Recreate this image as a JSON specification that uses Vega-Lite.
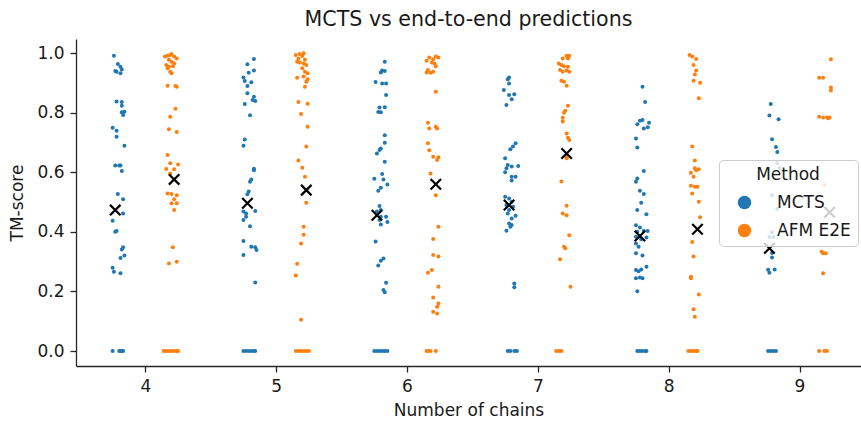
{
  "$schema": "https://vega.github.io/schema/vega-lite/v6.json",
  "width": 785,
  "height": 327,
  "autosize": "none",
  "padding": {"left": 76, "top": 39, "right": 0, "bottom": 55},
  "background": "white",
  "config": {
    "font": "DejaVu Sans",
    "view": {"stroke": null},
    "title": {"fontSize": 20.6, "fontWeight": "normal", "color": "#1a1a1a", "offset": 8},
    "axis": {
      "grid": false,
      "domainColor": "#262626",
      "domainWidth": 1.3,
      "tickColor": "#262626",
      "tickWidth": 1.3,
      "tickSize": 6,
      "labelFontSize": 17,
      "labelColor": "#1a1a1a",
      "labelPadding": 6,
      "titleFontSize": 17,
      "titleFontWeight": "normal",
      "titleColor": "#1a1a1a"
    }
  },
  "title": "MCTS vs end-to-end predictions",
  "datasets": {
    "points": [
      {"chains": 4, "method": "MCTS", "x": 3.76, "tm": 0.991},
      {"chains": 4, "method": "MCTS", "x": 3.79, "tm": 0.963},
      {"chains": 4, "method": "MCTS", "x": 3.81, "tm": 0.954},
      {"chains": 4, "method": "MCTS", "x": 3.77, "tm": 0.94},
      {"chains": 4, "method": "MCTS", "x": 3.78, "tm": 0.937},
      {"chains": 4, "method": "MCTS", "x": 3.82, "tm": 0.945},
      {"chains": 4, "method": "MCTS", "x": 3.81, "tm": 0.932},
      {"chains": 4, "method": "MCTS", "x": 3.78, "tm": 0.837},
      {"chains": 4, "method": "MCTS", "x": 3.82, "tm": 0.836},
      {"chains": 4, "method": "MCTS", "x": 3.82, "tm": 0.823},
      {"chains": 4, "method": "MCTS", "x": 3.82, "tm": 0.801},
      {"chains": 4, "method": "MCTS", "x": 3.84, "tm": 0.803},
      {"chains": 4, "method": "MCTS", "x": 3.83, "tm": 0.792},
      {"chains": 4, "method": "MCTS", "x": 3.75, "tm": 0.749},
      {"chains": 4, "method": "MCTS", "x": 3.78, "tm": 0.739},
      {"chains": 4, "method": "MCTS", "x": 3.78, "tm": 0.719},
      {"chains": 4, "method": "MCTS", "x": 3.84, "tm": 0.689},
      {"chains": 4, "method": "MCTS", "x": 3.77, "tm": 0.623},
      {"chains": 4, "method": "MCTS", "x": 3.8, "tm": 0.623},
      {"chains": 4, "method": "MCTS", "x": 3.81, "tm": 0.623},
      {"chains": 4, "method": "MCTS", "x": 3.82, "tm": 0.604},
      {"chains": 4, "method": "MCTS", "x": 3.79, "tm": 0.527},
      {"chains": 4, "method": "MCTS", "x": 3.83, "tm": 0.509},
      {"chains": 4, "method": "MCTS", "x": 3.83, "tm": 0.462},
      {"chains": 4, "method": "MCTS", "x": 3.75, "tm": 0.437},
      {"chains": 4, "method": "MCTS", "x": 3.78, "tm": 0.403},
      {"chains": 4, "method": "MCTS", "x": 3.77, "tm": 0.4},
      {"chains": 4, "method": "MCTS", "x": 3.83, "tm": 0.348},
      {"chains": 4, "method": "MCTS", "x": 3.82, "tm": 0.341},
      {"chains": 4, "method": "MCTS", "x": 3.84, "tm": 0.321},
      {"chains": 4, "method": "MCTS", "x": 3.81, "tm": 0.312},
      {"chains": 4, "method": "MCTS", "x": 3.75, "tm": 0.28},
      {"chains": 4, "method": "MCTS", "x": 3.76, "tm": 0.266},
      {"chains": 4, "method": "MCTS", "x": 3.81, "tm": 0.261},
      {"chains": 4, "method": "MCTS", "x": 3.75, "tm": 0},
      {"chains": 4, "method": "MCTS", "x": 3.8, "tm": 0},
      {"chains": 4, "method": "MCTS", "x": 3.81, "tm": 0},
      {"chains": 4, "method": "MCTS", "x": 3.82, "tm": 0},
      {"chains": 4, "method": "MCTS", "x": 3.83, "tm": 0},
      {"chains": 4, "method": "AFM E2E", "x": 4.15, "tm": 0.988},
      {"chains": 4, "method": "AFM E2E", "x": 4.17, "tm": 0.991},
      {"chains": 4, "method": "AFM E2E", "x": 4.19, "tm": 0.993},
      {"chains": 4, "method": "AFM E2E", "x": 4.2, "tm": 0.997},
      {"chains": 4, "method": "AFM E2E", "x": 4.22, "tm": 0.988},
      {"chains": 4, "method": "AFM E2E", "x": 4.24, "tm": 0.982},
      {"chains": 4, "method": "AFM E2E", "x": 4.18, "tm": 0.977},
      {"chains": 4, "method": "AFM E2E", "x": 4.2, "tm": 0.971},
      {"chains": 4, "method": "AFM E2E", "x": 4.22, "tm": 0.965},
      {"chains": 4, "method": "AFM E2E", "x": 4.16, "tm": 0.96},
      {"chains": 4, "method": "AFM E2E", "x": 4.18, "tm": 0.954},
      {"chains": 4, "method": "AFM E2E", "x": 4.21, "tm": 0.956},
      {"chains": 4, "method": "AFM E2E", "x": 4.17, "tm": 0.949},
      {"chains": 4, "method": "AFM E2E", "x": 4.19, "tm": 0.937},
      {"chains": 4, "method": "AFM E2E", "x": 4.2, "tm": 0.932},
      {"chains": 4, "method": "AFM E2E", "x": 4.17, "tm": 0.89},
      {"chains": 4, "method": "AFM E2E", "x": 4.23, "tm": 0.889},
      {"chains": 4, "method": "AFM E2E", "x": 4.24, "tm": 0.887},
      {"chains": 4, "method": "AFM E2E", "x": 4.23, "tm": 0.813},
      {"chains": 4, "method": "AFM E2E", "x": 4.19, "tm": 0.786},
      {"chains": 4, "method": "AFM E2E", "x": 4.18, "tm": 0.744},
      {"chains": 4, "method": "AFM E2E", "x": 4.24, "tm": 0.735},
      {"chains": 4, "method": "AFM E2E", "x": 4.17, "tm": 0.658},
      {"chains": 4, "method": "AFM E2E", "x": 4.19, "tm": 0.63},
      {"chains": 4, "method": "AFM E2E", "x": 4.25, "tm": 0.626},
      {"chains": 4, "method": "AFM E2E", "x": 4.16, "tm": 0.611},
      {"chains": 4, "method": "AFM E2E", "x": 4.22, "tm": 0.61},
      {"chains": 4, "method": "AFM E2E", "x": 4.19, "tm": 0.596},
      {"chains": 4, "method": "AFM E2E", "x": 4.17, "tm": 0.529},
      {"chains": 4, "method": "AFM E2E", "x": 4.2, "tm": 0.527},
      {"chains": 4, "method": "AFM E2E", "x": 4.24, "tm": 0.523},
      {"chains": 4, "method": "AFM E2E", "x": 4.22, "tm": 0.509},
      {"chains": 4, "method": "AFM E2E", "x": 4.2, "tm": 0.496},
      {"chains": 4, "method": "AFM E2E", "x": 4.24, "tm": 0.496},
      {"chains": 4, "method": "AFM E2E", "x": 4.22, "tm": 0.473},
      {"chains": 4, "method": "AFM E2E", "x": 4.21, "tm": 0.348},
      {"chains": 4, "method": "AFM E2E", "x": 4.18, "tm": 0.294},
      {"chains": 4, "method": "AFM E2E", "x": 4.24, "tm": 0.3},
      {"chains": 4, "method": "AFM E2E", "x": 4.14, "tm": 0},
      {"chains": 4, "method": "AFM E2E", "x": 4.16, "tm": 0},
      {"chains": 4, "method": "AFM E2E", "x": 4.18, "tm": 0},
      {"chains": 4, "method": "AFM E2E", "x": 4.2, "tm": 0},
      {"chains": 4, "method": "AFM E2E", "x": 4.22, "tm": 0},
      {"chains": 4, "method": "AFM E2E", "x": 4.24, "tm": 0},
      {"chains": 4, "method": "AFM E2E", "x": 4.25, "tm": 0},
      {"chains": 5, "method": "MCTS", "x": 4.83, "tm": 0.98},
      {"chains": 5, "method": "MCTS", "x": 4.78, "tm": 0.962},
      {"chains": 5, "method": "MCTS", "x": 4.83, "tm": 0.941},
      {"chains": 5, "method": "MCTS", "x": 4.79, "tm": 0.934},
      {"chains": 5, "method": "MCTS", "x": 4.75, "tm": 0.918},
      {"chains": 5, "method": "MCTS", "x": 4.76, "tm": 0.906},
      {"chains": 5, "method": "MCTS", "x": 4.81, "tm": 0.902},
      {"chains": 5, "method": "MCTS", "x": 4.78, "tm": 0.889},
      {"chains": 5, "method": "MCTS", "x": 4.78, "tm": 0.865},
      {"chains": 5, "method": "MCTS", "x": 4.83, "tm": 0.853},
      {"chains": 5, "method": "MCTS", "x": 4.82, "tm": 0.842},
      {"chains": 5, "method": "MCTS", "x": 4.84, "tm": 0.839},
      {"chains": 5, "method": "MCTS", "x": 4.76, "tm": 0.829},
      {"chains": 5, "method": "MCTS", "x": 4.8, "tm": 0.791},
      {"chains": 5, "method": "MCTS", "x": 4.76, "tm": 0.71},
      {"chains": 5, "method": "MCTS", "x": 4.75, "tm": 0.689},
      {"chains": 5, "method": "MCTS", "x": 4.83, "tm": 0.612},
      {"chains": 5, "method": "MCTS", "x": 4.83, "tm": 0.607},
      {"chains": 5, "method": "MCTS", "x": 4.81, "tm": 0.576},
      {"chains": 5, "method": "MCTS", "x": 4.8, "tm": 0.568},
      {"chains": 5, "method": "MCTS", "x": 4.79, "tm": 0.535},
      {"chains": 5, "method": "MCTS", "x": 4.78, "tm": 0.526},
      {"chains": 5, "method": "MCTS", "x": 4.75, "tm": 0.468},
      {"chains": 5, "method": "MCTS", "x": 4.77, "tm": 0.462},
      {"chains": 5, "method": "MCTS", "x": 4.84, "tm": 0.47},
      {"chains": 5, "method": "MCTS", "x": 4.77, "tm": 0.451},
      {"chains": 5, "method": "MCTS", "x": 4.75, "tm": 0.44},
      {"chains": 5, "method": "MCTS", "x": 4.8, "tm": 0.419},
      {"chains": 5, "method": "MCTS", "x": 4.75, "tm": 0.369},
      {"chains": 5, "method": "MCTS", "x": 4.81, "tm": 0.35},
      {"chains": 5, "method": "MCTS", "x": 4.84, "tm": 0.348},
      {"chains": 5, "method": "MCTS", "x": 4.85, "tm": 0.339},
      {"chains": 5, "method": "MCTS", "x": 4.75, "tm": 0.322},
      {"chains": 5, "method": "MCTS", "x": 4.84, "tm": 0.23},
      {"chains": 5, "method": "MCTS", "x": 4.75, "tm": 0},
      {"chains": 5, "method": "MCTS", "x": 4.77, "tm": 0},
      {"chains": 5, "method": "MCTS", "x": 4.79, "tm": 0},
      {"chains": 5, "method": "MCTS", "x": 4.81, "tm": 0},
      {"chains": 5, "method": "MCTS", "x": 4.83, "tm": 0},
      {"chains": 5, "method": "MCTS", "x": 4.84, "tm": 0},
      {"chains": 5, "method": "AFM E2E", "x": 5.15, "tm": 0.993},
      {"chains": 5, "method": "AFM E2E", "x": 5.18, "tm": 0.997},
      {"chains": 5, "method": "AFM E2E", "x": 5.21, "tm": 0.999},
      {"chains": 5, "method": "AFM E2E", "x": 5.17, "tm": 0.982},
      {"chains": 5, "method": "AFM E2E", "x": 5.2, "tm": 0.99},
      {"chains": 5, "method": "AFM E2E", "x": 5.22, "tm": 0.977},
      {"chains": 5, "method": "AFM E2E", "x": 5.16, "tm": 0.971},
      {"chains": 5, "method": "AFM E2E", "x": 5.18, "tm": 0.968},
      {"chains": 5, "method": "AFM E2E", "x": 5.21, "tm": 0.965},
      {"chains": 5, "method": "AFM E2E", "x": 5.23, "tm": 0.96},
      {"chains": 5, "method": "AFM E2E", "x": 5.2, "tm": 0.949},
      {"chains": 5, "method": "AFM E2E", "x": 5.22, "tm": 0.937},
      {"chains": 5, "method": "AFM E2E", "x": 5.24, "tm": 0.932},
      {"chains": 5, "method": "AFM E2E", "x": 5.16, "tm": 0.917},
      {"chains": 5, "method": "AFM E2E", "x": 5.21, "tm": 0.921},
      {"chains": 5, "method": "AFM E2E", "x": 5.24, "tm": 0.912},
      {"chains": 5, "method": "AFM E2E", "x": 5.23, "tm": 0.904},
      {"chains": 5, "method": "AFM E2E", "x": 5.22, "tm": 0.887},
      {"chains": 5, "method": "AFM E2E", "x": 5.17, "tm": 0.836},
      {"chains": 5, "method": "AFM E2E", "x": 5.24, "tm": 0.83},
      {"chains": 5, "method": "AFM E2E", "x": 5.19, "tm": 0.795},
      {"chains": 5, "method": "AFM E2E", "x": 5.24, "tm": 0.753},
      {"chains": 5, "method": "AFM E2E", "x": 5.23, "tm": 0.686},
      {"chains": 5, "method": "AFM E2E", "x": 5.17, "tm": 0.639},
      {"chains": 5, "method": "AFM E2E", "x": 5.2, "tm": 0.615},
      {"chains": 5, "method": "AFM E2E", "x": 5.22, "tm": 0.585},
      {"chains": 5, "method": "AFM E2E", "x": 5.23, "tm": 0.498},
      {"chains": 5, "method": "AFM E2E", "x": 5.21, "tm": 0.417},
      {"chains": 5, "method": "AFM E2E", "x": 5.21, "tm": 0.39},
      {"chains": 5, "method": "AFM E2E", "x": 5.19, "tm": 0.361},
      {"chains": 5, "method": "AFM E2E", "x": 5.16, "tm": 0.293},
      {"chains": 5, "method": "AFM E2E", "x": 5.15, "tm": 0.254},
      {"chains": 5, "method": "AFM E2E", "x": 5.19, "tm": 0.105},
      {"chains": 5, "method": "AFM E2E", "x": 5.15, "tm": 0},
      {"chains": 5, "method": "AFM E2E", "x": 5.17, "tm": 0},
      {"chains": 5, "method": "AFM E2E", "x": 5.19, "tm": 0},
      {"chains": 5, "method": "AFM E2E", "x": 5.21, "tm": 0},
      {"chains": 5, "method": "AFM E2E", "x": 5.23, "tm": 0},
      {"chains": 5, "method": "AFM E2E", "x": 5.25, "tm": 0},
      {"chains": 6, "method": "MCTS", "x": 5.83, "tm": 0.971},
      {"chains": 6, "method": "MCTS", "x": 5.81, "tm": 0.941},
      {"chains": 6, "method": "MCTS", "x": 5.83, "tm": 0.94},
      {"chains": 6, "method": "MCTS", "x": 5.8, "tm": 0.935},
      {"chains": 6, "method": "MCTS", "x": 5.76, "tm": 0.903},
      {"chains": 6, "method": "MCTS", "x": 5.81, "tm": 0.898},
      {"chains": 6, "method": "MCTS", "x": 5.84, "tm": 0.898},
      {"chains": 6, "method": "MCTS", "x": 5.84, "tm": 0.859},
      {"chains": 6, "method": "MCTS", "x": 5.79, "tm": 0.817},
      {"chains": 6, "method": "MCTS", "x": 5.83, "tm": 0.818},
      {"chains": 6, "method": "MCTS", "x": 5.78, "tm": 0.802},
      {"chains": 6, "method": "MCTS", "x": 5.8, "tm": 0.801},
      {"chains": 6, "method": "MCTS", "x": 5.83, "tm": 0.724},
      {"chains": 6, "method": "MCTS", "x": 5.83, "tm": 0.699},
      {"chains": 6, "method": "MCTS", "x": 5.8, "tm": 0.68},
      {"chains": 6, "method": "MCTS", "x": 5.79, "tm": 0.675},
      {"chains": 6, "method": "MCTS", "x": 5.77, "tm": 0.663},
      {"chains": 6, "method": "MCTS", "x": 5.83, "tm": 0.635},
      {"chains": 6, "method": "MCTS", "x": 5.75, "tm": 0.578},
      {"chains": 6, "method": "MCTS", "x": 5.81, "tm": 0.594},
      {"chains": 6, "method": "MCTS", "x": 5.82, "tm": 0.576},
      {"chains": 6, "method": "MCTS", "x": 5.85, "tm": 0.559},
      {"chains": 6, "method": "MCTS", "x": 5.8, "tm": 0.548},
      {"chains": 6, "method": "MCTS", "x": 5.78, "tm": 0.538},
      {"chains": 6, "method": "MCTS", "x": 5.79, "tm": 0.487},
      {"chains": 6, "method": "MCTS", "x": 5.8, "tm": 0.473},
      {"chains": 6, "method": "MCTS", "x": 5.77, "tm": 0.468},
      {"chains": 6, "method": "MCTS", "x": 5.8, "tm": 0.451},
      {"chains": 6, "method": "MCTS", "x": 5.84, "tm": 0.451},
      {"chains": 6, "method": "MCTS", "x": 5.79, "tm": 0.44},
      {"chains": 6, "method": "MCTS", "x": 5.85, "tm": 0.433},
      {"chains": 6, "method": "MCTS", "x": 5.8, "tm": 0.425},
      {"chains": 6, "method": "MCTS", "x": 5.76, "tm": 0.368},
      {"chains": 6, "method": "MCTS", "x": 5.82, "tm": 0.311},
      {"chains": 6, "method": "MCTS", "x": 5.8, "tm": 0.303},
      {"chains": 6, "method": "MCTS", "x": 5.78, "tm": 0.287},
      {"chains": 6, "method": "MCTS", "x": 5.84, "tm": 0.229},
      {"chains": 6, "method": "MCTS", "x": 5.82, "tm": 0.205},
      {"chains": 6, "method": "MCTS", "x": 5.83, "tm": 0.197},
      {"chains": 6, "method": "MCTS", "x": 5.75, "tm": 0},
      {"chains": 6, "method": "MCTS", "x": 5.77, "tm": 0},
      {"chains": 6, "method": "MCTS", "x": 5.79, "tm": 0},
      {"chains": 6, "method": "MCTS", "x": 5.81, "tm": 0},
      {"chains": 6, "method": "MCTS", "x": 5.83, "tm": 0},
      {"chains": 6, "method": "MCTS", "x": 5.85, "tm": 0},
      {"chains": 6, "method": "AFM E2E", "x": 6.17, "tm": 0.985},
      {"chains": 6, "method": "AFM E2E", "x": 6.22, "tm": 0.988},
      {"chains": 6, "method": "AFM E2E", "x": 6.24, "tm": 0.985},
      {"chains": 6, "method": "AFM E2E", "x": 6.15, "tm": 0.974},
      {"chains": 6, "method": "AFM E2E", "x": 6.19, "tm": 0.968},
      {"chains": 6, "method": "AFM E2E", "x": 6.21, "tm": 0.965},
      {"chains": 6, "method": "AFM E2E", "x": 6.22, "tm": 0.956},
      {"chains": 6, "method": "AFM E2E", "x": 6.2, "tm": 0.979},
      {"chains": 6, "method": "AFM E2E", "x": 6.16, "tm": 0.943},
      {"chains": 6, "method": "AFM E2E", "x": 6.2, "tm": 0.937},
      {"chains": 6, "method": "AFM E2E", "x": 6.15, "tm": 0.935},
      {"chains": 6, "method": "AFM E2E", "x": 6.18, "tm": 0.934},
      {"chains": 6, "method": "AFM E2E", "x": 6.22, "tm": 0.87},
      {"chains": 6, "method": "AFM E2E", "x": 6.16, "tm": 0.766},
      {"chains": 6, "method": "AFM E2E", "x": 6.17, "tm": 0.747},
      {"chains": 6, "method": "AFM E2E", "x": 6.22, "tm": 0.753},
      {"chains": 6, "method": "AFM E2E", "x": 6.23, "tm": 0.747},
      {"chains": 6, "method": "AFM E2E", "x": 6.16, "tm": 0.697},
      {"chains": 6, "method": "AFM E2E", "x": 6.17, "tm": 0.674},
      {"chains": 6, "method": "AFM E2E", "x": 6.2, "tm": 0.652},
      {"chains": 6, "method": "AFM E2E", "x": 6.24, "tm": 0.65},
      {"chains": 6, "method": "AFM E2E", "x": 6.23, "tm": 0.641},
      {"chains": 6, "method": "AFM E2E", "x": 6.18, "tm": 0.596},
      {"chains": 6, "method": "AFM E2E", "x": 6.22, "tm": 0.523},
      {"chains": 6, "method": "AFM E2E", "x": 6.24, "tm": 0.417},
      {"chains": 6, "method": "AFM E2E", "x": 6.2, "tm": 0.376},
      {"chains": 6, "method": "AFM E2E", "x": 6.2, "tm": 0.322},
      {"chains": 6, "method": "AFM E2E", "x": 6.24, "tm": 0.317},
      {"chains": 6, "method": "AFM E2E", "x": 6.16, "tm": 0.263},
      {"chains": 6, "method": "AFM E2E", "x": 6.19, "tm": 0.272},
      {"chains": 6, "method": "AFM E2E", "x": 6.24, "tm": 0.216},
      {"chains": 6, "method": "AFM E2E", "x": 6.2, "tm": 0.18},
      {"chains": 6, "method": "AFM E2E", "x": 6.24, "tm": 0.16},
      {"chains": 6, "method": "AFM E2E", "x": 6.23, "tm": 0.149},
      {"chains": 6, "method": "AFM E2E", "x": 6.2, "tm": 0.132},
      {"chains": 6, "method": "AFM E2E", "x": 6.23, "tm": 0.126},
      {"chains": 6, "method": "AFM E2E", "x": 6.15, "tm": 0},
      {"chains": 6, "method": "AFM E2E", "x": 6.16, "tm": 0},
      {"chains": 6, "method": "AFM E2E", "x": 6.18, "tm": 0},
      {"chains": 6, "method": "AFM E2E", "x": 6.22, "tm": 0},
      {"chains": 7, "method": "MCTS", "x": 6.78, "tm": 0.918},
      {"chains": 7, "method": "MCTS", "x": 6.77, "tm": 0.912},
      {"chains": 7, "method": "MCTS", "x": 6.78, "tm": 0.898},
      {"chains": 7, "method": "MCTS", "x": 6.74, "tm": 0.876},
      {"chains": 7, "method": "MCTS", "x": 6.78, "tm": 0.859},
      {"chains": 7, "method": "MCTS", "x": 6.82, "tm": 0.862},
      {"chains": 7, "method": "MCTS", "x": 6.8, "tm": 0.845},
      {"chains": 7, "method": "MCTS", "x": 6.76, "tm": 0.826},
      {"chains": 7, "method": "MCTS", "x": 6.83, "tm": 0.697},
      {"chains": 7, "method": "MCTS", "x": 6.81, "tm": 0.686},
      {"chains": 7, "method": "MCTS", "x": 6.79, "tm": 0.677},
      {"chains": 7, "method": "MCTS", "x": 6.75, "tm": 0.647},
      {"chains": 7, "method": "MCTS", "x": 6.77, "tm": 0.624},
      {"chains": 7, "method": "MCTS", "x": 6.76, "tm": 0.613},
      {"chains": 7, "method": "MCTS", "x": 6.8, "tm": 0.619},
      {"chains": 7, "method": "MCTS", "x": 6.85, "tm": 0.621},
      {"chains": 7, "method": "MCTS", "x": 6.75, "tm": 0.6},
      {"chains": 7, "method": "MCTS", "x": 6.8, "tm": 0.585},
      {"chains": 7, "method": "MCTS", "x": 6.83, "tm": 0.585},
      {"chains": 7, "method": "MCTS", "x": 6.8, "tm": 0.572},
      {"chains": 7, "method": "MCTS", "x": 6.75, "tm": 0.518},
      {"chains": 7, "method": "MCTS", "x": 6.78, "tm": 0.512},
      {"chains": 7, "method": "MCTS", "x": 6.8, "tm": 0.501},
      {"chains": 7, "method": "MCTS", "x": 6.76, "tm": 0.49},
      {"chains": 7, "method": "MCTS", "x": 6.81, "tm": 0.484},
      {"chains": 7, "method": "MCTS", "x": 6.78, "tm": 0.473},
      {"chains": 7, "method": "MCTS", "x": 6.77, "tm": 0.462},
      {"chains": 7, "method": "MCTS", "x": 6.83, "tm": 0.454},
      {"chains": 7, "method": "MCTS", "x": 6.8, "tm": 0.445},
      {"chains": 7, "method": "MCTS", "x": 6.78, "tm": 0.428},
      {"chains": 7, "method": "MCTS", "x": 6.8, "tm": 0.423},
      {"chains": 7, "method": "MCTS", "x": 6.79, "tm": 0.417},
      {"chains": 7, "method": "MCTS", "x": 6.76, "tm": 0.404},
      {"chains": 7, "method": "MCTS", "x": 6.82, "tm": 0.227},
      {"chains": 7, "method": "MCTS", "x": 6.82, "tm": 0.214},
      {"chains": 7, "method": "MCTS", "x": 6.77, "tm": 0},
      {"chains": 7, "method": "MCTS", "x": 6.79, "tm": 0},
      {"chains": 7, "method": "MCTS", "x": 6.82, "tm": 0},
      {"chains": 7, "method": "MCTS", "x": 6.84, "tm": 0},
      {"chains": 7, "method": "AFM E2E", "x": 7.22, "tm": 0.991},
      {"chains": 7, "method": "AFM E2E", "x": 7.24, "tm": 0.991},
      {"chains": 7, "method": "AFM E2E", "x": 7.19, "tm": 0.982},
      {"chains": 7, "method": "AFM E2E", "x": 7.23, "tm": 0.982},
      {"chains": 7, "method": "AFM E2E", "x": 7.16, "tm": 0.965},
      {"chains": 7, "method": "AFM E2E", "x": 7.18, "tm": 0.96},
      {"chains": 7, "method": "AFM E2E", "x": 7.2, "tm": 0.956},
      {"chains": 7, "method": "AFM E2E", "x": 7.23, "tm": 0.954},
      {"chains": 7, "method": "AFM E2E", "x": 7.17, "tm": 0.943},
      {"chains": 7, "method": "AFM E2E", "x": 7.19, "tm": 0.937},
      {"chains": 7, "method": "AFM E2E", "x": 7.22, "tm": 0.941},
      {"chains": 7, "method": "AFM E2E", "x": 7.24, "tm": 0.937},
      {"chains": 7, "method": "AFM E2E", "x": 7.18, "tm": 0.907},
      {"chains": 7, "method": "AFM E2E", "x": 7.2, "tm": 0.904},
      {"chains": 7, "method": "AFM E2E", "x": 7.22, "tm": 0.89},
      {"chains": 7, "method": "AFM E2E", "x": 7.23, "tm": 0.823},
      {"chains": 7, "method": "AFM E2E", "x": 7.21, "tm": 0.806},
      {"chains": 7, "method": "AFM E2E", "x": 7.2, "tm": 0.8},
      {"chains": 7, "method": "AFM E2E", "x": 7.19, "tm": 0.783},
      {"chains": 7, "method": "AFM E2E", "x": 7.19, "tm": 0.77},
      {"chains": 7, "method": "AFM E2E", "x": 7.22, "tm": 0.73},
      {"chains": 7, "method": "AFM E2E", "x": 7.23, "tm": 0.716},
      {"chains": 7, "method": "AFM E2E", "x": 7.24, "tm": 0.708},
      {"chains": 7, "method": "AFM E2E", "x": 7.22, "tm": 0.652},
      {"chains": 7, "method": "AFM E2E", "x": 7.22, "tm": 0.647},
      {"chains": 7, "method": "AFM E2E", "x": 7.18, "tm": 0.569},
      {"chains": 7, "method": "AFM E2E", "x": 7.22, "tm": 0.488},
      {"chains": 7, "method": "AFM E2E", "x": 7.19, "tm": 0.462},
      {"chains": 7, "method": "AFM E2E", "x": 7.22, "tm": 0.456},
      {"chains": 7, "method": "AFM E2E", "x": 7.24, "tm": 0.389},
      {"chains": 7, "method": "AFM E2E", "x": 7.2, "tm": 0.35},
      {"chains": 7, "method": "AFM E2E", "x": 7.21, "tm": 0.345},
      {"chains": 7, "method": "AFM E2E", "x": 7.17, "tm": 0.308},
      {"chains": 7, "method": "AFM E2E", "x": 7.25, "tm": 0.216},
      {"chains": 7, "method": "AFM E2E", "x": 7.14, "tm": 0},
      {"chains": 7, "method": "AFM E2E", "x": 7.16, "tm": 0},
      {"chains": 7, "method": "AFM E2E", "x": 7.18, "tm": 0},
      {"chains": 8, "method": "MCTS", "x": 7.8, "tm": 0.887},
      {"chains": 8, "method": "MCTS", "x": 7.82, "tm": 0.836},
      {"chains": 8, "method": "MCTS", "x": 7.8, "tm": 0.775},
      {"chains": 8, "method": "MCTS", "x": 7.78, "tm": 0.773},
      {"chains": 8, "method": "MCTS", "x": 7.76, "tm": 0.761},
      {"chains": 8, "method": "MCTS", "x": 7.85, "tm": 0.766},
      {"chains": 8, "method": "MCTS", "x": 7.81, "tm": 0.747},
      {"chains": 8, "method": "MCTS", "x": 7.84, "tm": 0.751},
      {"chains": 8, "method": "MCTS", "x": 7.75, "tm": 0.713},
      {"chains": 8, "method": "MCTS", "x": 7.76, "tm": 0.683},
      {"chains": 8, "method": "MCTS", "x": 7.81, "tm": 0.604},
      {"chains": 8, "method": "MCTS", "x": 7.76, "tm": 0.579},
      {"chains": 8, "method": "MCTS", "x": 7.75, "tm": 0.568},
      {"chains": 8, "method": "MCTS", "x": 7.78, "tm": 0.538},
      {"chains": 8, "method": "MCTS", "x": 7.81, "tm": 0.527},
      {"chains": 8, "method": "MCTS", "x": 7.79, "tm": 0.498},
      {"chains": 8, "method": "MCTS", "x": 7.76, "tm": 0.473},
      {"chains": 8, "method": "MCTS", "x": 7.83, "tm": 0.459},
      {"chains": 8, "method": "MCTS", "x": 7.75, "tm": 0.422},
      {"chains": 8, "method": "MCTS", "x": 7.78, "tm": 0.415},
      {"chains": 8, "method": "MCTS", "x": 7.76, "tm": 0.4},
      {"chains": 8, "method": "MCTS", "x": 7.81, "tm": 0.403},
      {"chains": 8, "method": "MCTS", "x": 7.84, "tm": 0.403},
      {"chains": 8, "method": "MCTS", "x": 7.75, "tm": 0.384},
      {"chains": 8, "method": "MCTS", "x": 7.79, "tm": 0.375},
      {"chains": 8, "method": "MCTS", "x": 7.83, "tm": 0.381},
      {"chains": 8, "method": "MCTS", "x": 7.75, "tm": 0.361},
      {"chains": 8, "method": "MCTS", "x": 7.77, "tm": 0.35},
      {"chains": 8, "method": "MCTS", "x": 7.75, "tm": 0.328},
      {"chains": 8, "method": "MCTS", "x": 7.8, "tm": 0.321},
      {"chains": 8, "method": "MCTS", "x": 7.83, "tm": 0.283},
      {"chains": 8, "method": "MCTS", "x": 7.75, "tm": 0.272},
      {"chains": 8, "method": "MCTS", "x": 7.77, "tm": 0.268},
      {"chains": 8, "method": "MCTS", "x": 7.79, "tm": 0.274},
      {"chains": 8, "method": "MCTS", "x": 7.75, "tm": 0.244},
      {"chains": 8, "method": "MCTS", "x": 7.78, "tm": 0.247},
      {"chains": 8, "method": "MCTS", "x": 7.8, "tm": 0.244},
      {"chains": 8, "method": "MCTS", "x": 7.76, "tm": 0.201},
      {"chains": 8, "method": "MCTS", "x": 7.76, "tm": 0},
      {"chains": 8, "method": "MCTS", "x": 7.78, "tm": 0},
      {"chains": 8, "method": "MCTS", "x": 7.8, "tm": 0},
      {"chains": 8, "method": "MCTS", "x": 7.82, "tm": 0},
      {"chains": 8, "method": "MCTS", "x": 7.83, "tm": 0},
      {"chains": 8, "method": "AFM E2E", "x": 8.16, "tm": 0.993},
      {"chains": 8, "method": "AFM E2E", "x": 8.18, "tm": 0.988},
      {"chains": 8, "method": "AFM E2E", "x": 8.21, "tm": 0.98},
      {"chains": 8, "method": "AFM E2E", "x": 8.19, "tm": 0.96},
      {"chains": 8, "method": "AFM E2E", "x": 8.21, "tm": 0.941},
      {"chains": 8, "method": "AFM E2E", "x": 8.2, "tm": 0.928},
      {"chains": 8, "method": "AFM E2E", "x": 8.19, "tm": 0.907},
      {"chains": 8, "method": "AFM E2E", "x": 8.24, "tm": 0.9},
      {"chains": 8, "method": "AFM E2E", "x": 8.23, "tm": 0.848},
      {"chains": 8, "method": "AFM E2E", "x": 8.18, "tm": 0.686},
      {"chains": 8, "method": "AFM E2E", "x": 8.2, "tm": 0.639},
      {"chains": 8, "method": "AFM E2E", "x": 8.2, "tm": 0.613},
      {"chains": 8, "method": "AFM E2E", "x": 8.17, "tm": 0.598},
      {"chains": 8, "method": "AFM E2E", "x": 8.21, "tm": 0.607},
      {"chains": 8, "method": "AFM E2E", "x": 8.23, "tm": 0.61},
      {"chains": 8, "method": "AFM E2E", "x": 8.19, "tm": 0.585},
      {"chains": 8, "method": "AFM E2E", "x": 8.17, "tm": 0.555},
      {"chains": 8, "method": "AFM E2E", "x": 8.2, "tm": 0.551},
      {"chains": 8, "method": "AFM E2E", "x": 8.22, "tm": 0.551},
      {"chains": 8, "method": "AFM E2E", "x": 8.18, "tm": 0.529},
      {"chains": 8, "method": "AFM E2E", "x": 8.23, "tm": 0.501},
      {"chains": 8, "method": "AFM E2E", "x": 8.24, "tm": 0.449},
      {"chains": 8, "method": "AFM E2E", "x": 8.18, "tm": 0.366},
      {"chains": 8, "method": "AFM E2E", "x": 8.19, "tm": 0.317},
      {"chains": 8, "method": "AFM E2E", "x": 8.17, "tm": 0.249},
      {"chains": 8, "method": "AFM E2E", "x": 8.17, "tm": 0.244},
      {"chains": 8, "method": "AFM E2E", "x": 8.23, "tm": 0.19},
      {"chains": 8, "method": "AFM E2E", "x": 8.19, "tm": 0.14},
      {"chains": 8, "method": "AFM E2E", "x": 8.2, "tm": 0.115},
      {"chains": 8, "method": "AFM E2E", "x": 8.15, "tm": 0},
      {"chains": 8, "method": "AFM E2E", "x": 8.17, "tm": 0},
      {"chains": 8, "method": "AFM E2E", "x": 8.19, "tm": 0},
      {"chains": 8, "method": "AFM E2E", "x": 8.21, "tm": 0},
      {"chains": 8, "method": "AFM E2E", "x": 8.22, "tm": 0},
      {"chains": 9, "method": "MCTS", "x": 8.78, "tm": 0.829},
      {"chains": 9, "method": "MCTS", "x": 8.77, "tm": 0.79},
      {"chains": 9, "method": "MCTS", "x": 8.84, "tm": 0.778},
      {"chains": 9, "method": "MCTS", "x": 8.79, "tm": 0.711},
      {"chains": 9, "method": "MCTS", "x": 8.82, "tm": 0.685},
      {"chains": 9, "method": "MCTS", "x": 8.83, "tm": 0.668},
      {"chains": 9, "method": "MCTS", "x": 8.83, "tm": 0.631},
      {"chains": 9, "method": "MCTS", "x": 8.85, "tm": 0.614},
      {"chains": 9, "method": "MCTS", "x": 8.79, "tm": 0.523},
      {"chains": 9, "method": "MCTS", "x": 8.83, "tm": 0.477},
      {"chains": 9, "method": "MCTS", "x": 8.79, "tm": 0.399},
      {"chains": 9, "method": "MCTS", "x": 8.77, "tm": 0.383},
      {"chains": 9, "method": "MCTS", "x": 8.8, "tm": 0.383},
      {"chains": 9, "method": "MCTS", "x": 8.79, "tm": 0.329},
      {"chains": 9, "method": "MCTS", "x": 8.79, "tm": 0.314},
      {"chains": 9, "method": "MCTS", "x": 8.76, "tm": 0.273},
      {"chains": 9, "method": "MCTS", "x": 8.77, "tm": 0.263},
      {"chains": 9, "method": "MCTS", "x": 8.81, "tm": 0.274},
      {"chains": 9, "method": "MCTS", "x": 8.76, "tm": 0},
      {"chains": 9, "method": "MCTS", "x": 8.78, "tm": 0},
      {"chains": 9, "method": "MCTS", "x": 8.8, "tm": 0},
      {"chains": 9, "method": "MCTS", "x": 8.82, "tm": 0},
      {"chains": 9, "method": "AFM E2E", "x": 9.24, "tm": 0.979},
      {"chains": 9, "method": "AFM E2E", "x": 9.15, "tm": 0.917},
      {"chains": 9, "method": "AFM E2E", "x": 9.18, "tm": 0.917},
      {"chains": 9, "method": "AFM E2E", "x": 9.24, "tm": 0.884},
      {"chains": 9, "method": "AFM E2E", "x": 9.24, "tm": 0.874},
      {"chains": 9, "method": "AFM E2E", "x": 9.15, "tm": 0.786},
      {"chains": 9, "method": "AFM E2E", "x": 9.18, "tm": 0.784},
      {"chains": 9, "method": "AFM E2E", "x": 9.21, "tm": 0.784},
      {"chains": 9, "method": "AFM E2E", "x": 9.22, "tm": 0.781},
      {"chains": 9, "method": "AFM E2E", "x": 9.23, "tm": 0.784},
      {"chains": 9, "method": "AFM E2E", "x": 9.19, "tm": 0.557},
      {"chains": 9, "method": "AFM E2E", "x": 9.17, "tm": 0.333},
      {"chains": 9, "method": "AFM E2E", "x": 9.18, "tm": 0.328},
      {"chains": 9, "method": "AFM E2E", "x": 9.2, "tm": 0.328},
      {"chains": 9, "method": "AFM E2E", "x": 9.18, "tm": 0.261},
      {"chains": 9, "method": "AFM E2E", "x": 9.15, "tm": 0},
      {"chains": 9, "method": "AFM E2E", "x": 9.19, "tm": 0},
      {"chains": 9, "method": "AFM E2E", "x": 9.21, "tm": 0}
    ],
    "means": [
      {"chains": 4, "method": "MCTS", "x": 3.77, "tm": 0.473},
      {"chains": 4, "method": "AFM E2E", "x": 4.22, "tm": 0.576},
      {"chains": 5, "method": "MCTS", "x": 4.78, "tm": 0.496},
      {"chains": 5, "method": "AFM E2E", "x": 5.23, "tm": 0.54},
      {"chains": 6, "method": "MCTS", "x": 5.77, "tm": 0.456},
      {"chains": 6, "method": "AFM E2E", "x": 6.22, "tm": 0.56},
      {"chains": 7, "method": "MCTS", "x": 6.78, "tm": 0.49},
      {"chains": 7, "method": "AFM E2E", "x": 7.22, "tm": 0.663},
      {"chains": 8, "method": "MCTS", "x": 7.78, "tm": 0.386},
      {"chains": 8, "method": "AFM E2E", "x": 8.22, "tm": 0.409},
      {"chains": 9, "method": "MCTS", "x": 8.77, "tm": 0.345},
      {"chains": 9, "method": "AFM E2E", "x": 9.23, "tm": 0.466}
    ]
  },
  "encoding": {
    "x": {
      "field": "x",
      "type": "quantitative",
      "scale": {"domain": [3.47, 9.47], "nice": false, "zero": false},
      "axis": {"title": "Number of chains", "values": [4, 5, 6, 7, 8, 9], "format": "d", "titlePadding": 8}
    },
    "y": {
      "field": "tm",
      "type": "quantitative",
      "scale": {"domain": [-0.05, 1.047], "nice": false, "zero": false},
      "axis": {"title": "TM-score", "values": [0, 0.2, 0.4, 0.6, 0.8, 1.0], "format": ".1f", "titlePadding": 10}
    }
  },
  "layer": [
    {
      "data": {"name": "points"},
      "mark": {"type": "circle", "size": 16, "opacity": 1},
      "encoding": {
        "color": {
          "field": "method",
          "type": "nominal",
          "scale": {"domain": ["MCTS", "AFM E2E"], "range": ["#1f77b4", "#ff7f0e"]},
          "legend": {
            "title": "Method",
            "orient": "none",
            "legendX": 643,
            "legendY": 121,
            "fillColor": "rgba(255,255,255,0.8)",
            "strokeColor": "#cccccc",
            "cornerRadius": 4,
            "padding": 7,
            "symbolType": "circle",
            "symbolSize": 180,
            "symbolOpacity": 1,
            "symbolOffset": 10,
            "labelOffset": 24,
            "rowPadding": 10,
            "titlePadding": 10,
            "titleAnchor": "middle",
            "titleFontSize": 17,
            "titleFontWeight": "normal",
            "titleColor": "#1a1a1a",
            "labelFontSize": 17,
            "labelColor": "#1a1a1a"
          }
        }
      }
    },
    {
      "data": {"name": "means"},
      "mark": {
        "type": "point",
        "shape": "M-1,-1L1,1M-1,1L1,-1",
        "filled": false,
        "color": "black",
        "strokeWidth": 2.2,
        "size": 110,
        "opacity": 1
      }
    }
  ]
}
